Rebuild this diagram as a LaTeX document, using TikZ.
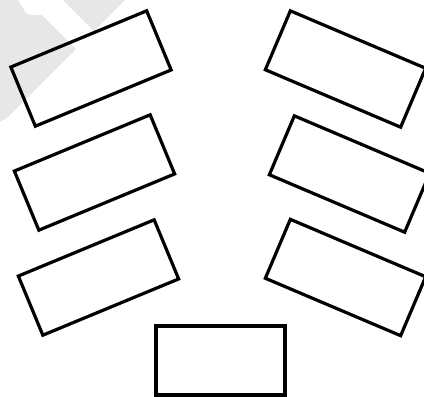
\documentclass[tikz,border=0pt]{standalone}
\definecolor{wmgray}{gray}{0.905}
\tikzset{
  card/.style={draw=black, line width=1.6pt, minimum width=73.5pt, minimum height=32pt, inner sep=0pt, outer sep=0pt},
  basecard/.style={card, line width=2pt, minimum width=64.5pt, minimum height=34.5pt}
}
\begin{document}
\begin{tikzpicture}[x=0.5pt, y=-0.5pt]
  % 倾斜角度
  \def\tl{22.5}
  \def\tr{-23}

  % 1. 画面范围
  \useasboundingbox (0,0) rectangle (424,397);

  % 2. 左上角的浅灰色水印
  \fill[wmgray] (0,0) -- (18,0) -- (24,10) .. controls (26,14) and (29,15) .. (33,15)
    -- (42,15) -- (76,49) -- (8,117) -- (0,122) -- cycle;
  \fill[wmgray] (63,0) -- (125,0) -- (94,31) -- cycle;

  % 3. 左列三个矩形
  \node[card, rotate=\tl] (left1) at (91,68.5) {};
  \node[card, rotate=\tl] (left2) at (94.5,172.5) {};
  \node[card, rotate=\tl] (left3) at (98.5,277.5) {};

  % 4. 右列三个矩形
  \node[card, rotate=\tr] (right1) at (345.5,69) {};
  \node[card, rotate=\tr] (right2) at (349.5,174) {};
  \node[card, rotate=\tr] (right3) at (345.5,277.5) {};

  % 5. 底部水平矩形
  \node[basecard] (bottom) at (220,360.5) {};

\end{tikzpicture}
\end{document}
